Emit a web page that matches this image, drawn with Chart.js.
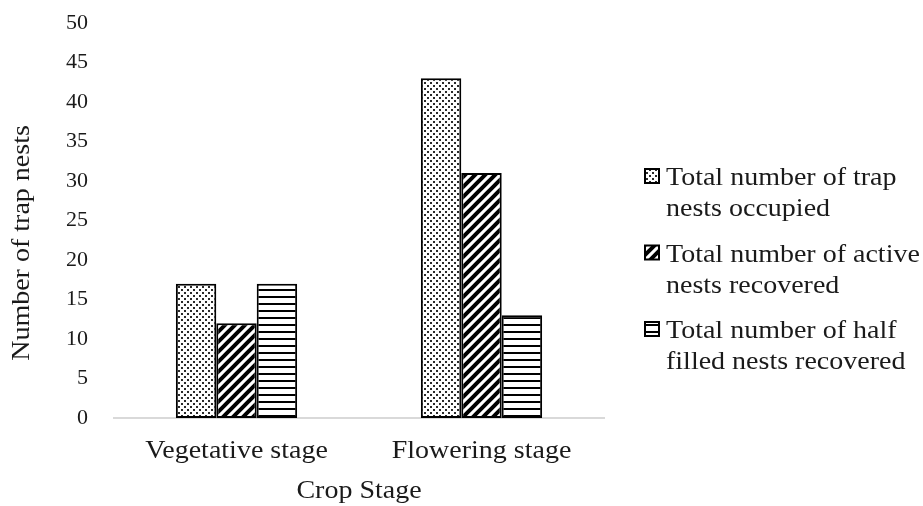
<!DOCTYPE html>
<html>
<head>
<meta charset="utf-8">
<script src="https://cdn.jsdelivr.net/npm/chart.js@4.4.0/dist/chart.umd.min.js"></script>
<style>
    html, body { margin: 0; padding: 0; background: #ffffff; }
    #wrap { width: 923px; height: 506px; position: relative; }
</style>
</head>
<body>
<div id="wrap"><canvas id="trapChart" width="923" height="506"></canvas></div>
<script>
// Crop stage trap nest chart

const stages = ['Vegetative stage', 'Flowering stage'];
const occupied = [17, 43];
const activeRecovered = [12, 31];
const halfFilled = [17, 13];
const seriesNames = [
    ['Total number of trap', 'nests occupied'],
    ['Total number of active', 'nests recovered'],
    ['Total number of half', 'filled nests recovered']
];
const yTicks = [0, 5, 10, 15, 20, 25, 30, 35, 40, 45, 50];

const FONT = '"Liberation Serif", "Times New Roman", serif';
const TEXT = '#1a1a1a';
const STRETCH = 1.12;   // reference text is a bit wide

// fill patterns (Excel style)
function makePattern(kind) {
    const c = document.createElement('canvas');
    const g = c.getContext('2d');
    if (kind === 'dots') {
        c.width = 6; c.height = 6;
        g.fillStyle = '#ffffff';
        g.fillRect(0, 0, 6, 6);
        g.fillStyle = '#2a2a2a';
        g.fillRect(1, 1, 2, 2);
        g.fillRect(4, 4, 2, 2);
    } else if (kind === 'diag') {
        c.width = 10; c.height = 10;
        g.fillStyle = '#ffffff';
        g.fillRect(0, 0, 10, 10);
        g.strokeStyle = '#000000';
        g.lineWidth = 4;
        g.beginPath();
        g.moveTo(-2, 12); g.lineTo(12, -2);
        g.moveTo(-7, 7); g.lineTo(7, -7);
        g.moveTo(3, 17); g.lineTo(17, 3);
        g.stroke();
    } else {
        c.width = 7; c.height = 7;
        g.fillStyle = '#ffffff';
        g.fillRect(0, 0, 7, 7);
        g.fillStyle = '#000000';
        g.fillRect(0, 2, 7, 2);
    }
    return g.createPattern(c, 'repeat');
}

const fills = [makePattern('dots'), makePattern('diag'), makePattern('horiz')];

function wideText(ctx, str, x, y, align) {
    ctx.save();
    ctx.translate(x, y);
    ctx.scale(STRETCH, 1);
    ctx.textAlign = align;
    ctx.fillText(str, 0, 0);
    ctx.restore();
}

// category labels, legend + axis titles drawn by hand (multi-line labels)
const customText = {
    id: 'customText',
    afterDraw(chart) {
        const ctx = chart.ctx;
        const area = chart.chartArea;
        const xScale = chart.scales.x;
        ctx.save();
        ctx.fillStyle = TEXT;
        ctx.font = '25px ' + FONT;
        ctx.textBaseline = 'alphabetic';

        stages.forEach((s, i) => wideText(ctx, s, xScale.getPixelForTick(i), 458, 'center'));
        wideText(ctx, 'Crop Stage', (area.left + area.right) / 2, 498, 'center');

        ctx.save();
        ctx.translate(29, 243);
        ctx.rotate(-Math.PI / 2);
        wideText(ctx, 'Number of trap nests', 0, 0, 'center');
        ctx.restore();

        seriesNames.forEach((lines, i) => {
            const y = 176 + i * 76.5;
            ctx.fillStyle = fills[i];
            ctx.fillRect(645, y - 7, 14, 14);
            ctx.strokeStyle = '#000000';
            ctx.lineWidth = 2;
            ctx.strokeRect(645, y - 7, 14, 14);
            ctx.fillStyle = TEXT;
            lines.forEach((t, j) => wideText(ctx, t, 666, y + 9 + j * 31, 'left'));
        });
        ctx.restore();
    }
};

const datasets = [occupied, activeRecovered, halfFilled].map((vals, i) => ({
    label: seriesNames[i].join(' '),
    data: vals,
    backgroundColor: fills[i],
    borderColor: '#000000',
    borderWidth: 2,
    borderSkipped: false,
    categoryPercentage: 0.495,
    barPercentage: 1.0
}));

new Chart(document.getElementById('trapChart'), {
    type: 'bar',
    data: { labels: stages, datasets: datasets },
    plugins: [customText],
    options: {
        responsive: false,
        animation: false,
        layout: { padding: { top: 23, right: 319, left: 0, bottom: 0 } },
        plugins: {
            legend: { display: false },
            tooltip: { enabled: false }
        },
        scales: {
            x: {
                grid: { display: false, drawTicks: false },
                border: { display: true, color: '#d9d9d9', width: 2 },
                ticks: { display: false },
                afterFit(axis) {
                    axis.height = 88;
                    axis.paddingLeft = 0;
                    axis.paddingRight = 0;
                }
            },
            y: {
                min: 0,
                max: 50,
                afterBuildTicks(axis) { axis.ticks = yTicks.map(v => ({ value: v })); },
                grid: { display: false, drawTicks: false },
                border: { display: false },
                ticks: {
                    color: TEXT,
                    padding: 26,
                    font: { family: FONT, size: 22 }
                },
                afterFit(axis) {
                    axis.width = 114;
                    axis.paddingTop = 0;
                    axis.paddingBottom = 0;
                }
            }
        }
    }
});
</script>
</body>
</html>
